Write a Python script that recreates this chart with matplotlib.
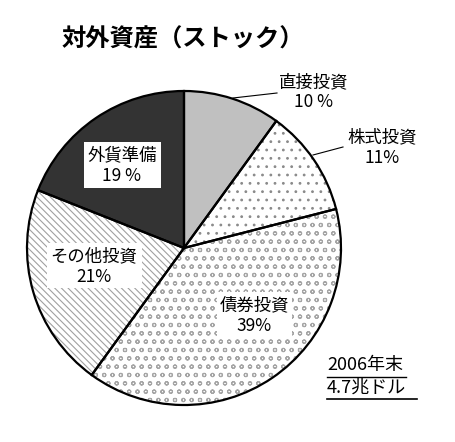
import matplotlib
matplotlib.use("Agg")
import matplotlib.pyplot as plt

plt.rcParams['font.family'] = ['Noto Sans CJK JP', 'DejaVu Sans']
plt.rcParams['hatch.linewidth'] = 0.8

# データ（2006年末 対外資産）
labels = ['直接投資', '株式投資', '債券投資', 'その他投資', '外貨準備']
shares = [10, 11, 39, 21, 19]
pct_text = ['10 %', '11%', '39%', '21%', '19 %']

fills = ['#c0c0c0', 'white', 'white', 'white', '#333333']
hatches = [None, '..', 'oo', '\\\\\\\\\\', None]
hatch_cols = ['#c0c0c0', '#8a8a8a', '#a5a5a5', '#a0a0a0', '#333333']

W, H = 455, 442
fig = plt.figure(figsize=(W / 100, H / 100), dpi=100)
ax = fig.add_axes([0, 0, 1, 1])

cx, cy, r = 184, H - 248, 157

# 塗り＋ハッチ（ハッチ色はedgecolorから）
wedges, _ = ax.pie(shares, startangle=90, counterclock=False,
                   center=(cx, cy), radius=r, frame=True,
                   colors=fills,
                   wedgeprops=dict(linewidth=0))
for w, h, hc in zip(wedges, hatches, hatch_cols):
    w.set_edgecolor(hc)
    if h:
        w.set_hatch(h)

# 輪郭線
ax.pie(shares, startangle=90, counterclock=False, center=(cx, cy),
       radius=r, frame=True,
       wedgeprops=dict(fill=False, edgecolor='black', linewidth=1.6))
ax.set_xlim(0, W)
ax.set_ylim(0, H)
ax.set_aspect('equal')
ax.axis('off')

def py(y):
    return H - y

fs = 12.5

# タイトル
ax.text(62, py(40), '対外資産（ストック）', fontsize=17.5, fontweight='bold',
        ha='left', va='center')

# 外側ラベル
ax.plot([233, 277], [py(98), py(93)], color='black', lw=0.8)
ax.text(314, py(82), labels[0], fontsize=fs, ha='center', va='center')
ax.text(314, py(102), pct_text[0], fontsize=fs, ha='center', va='center')

ax.plot([313, 343], [py(155), py(147)], color='black', lw=0.8)
ax.text(382, py(137), labels[1], fontsize=fs, ha='center', va='center')
ax.text(382, py(158), pct_text[1], fontsize=fs, ha='center', va='center')

# 白抜きボックスのラベル
boxes = [(2, 217, 292, 75, 45, 254), (3, 47, 243, 95, 45, 94), (4, 84, 142, 77, 46, 122)]
for i, bx, by, bw, bh, tx in boxes:
    ax.add_patch(plt.Rectangle((bx, py(by + bh)), bw, bh, facecolor='white',
                               edgecolor='none', zorder=3))
    ax.text(tx, py(by + 13), labels[i], fontsize=fs, ha='center', va='center', zorder=4)
    ax.text(tx, py(by + 34), pct_text[i], fontsize=fs, ha='center', va='center', zorder=4)

# 注記
ax.text(327, py(365), '2006年末', fontsize=13, ha='left', va='center')
ax.text(327, py(388), '4.7兆ドル', fontsize=13, ha='left', va='center')
ax.plot([327, 406], [py(377), py(377)], color='black', lw=1.0)
ax.plot([327, 417], [py(399), py(399)], color='black', lw=1.2)

fig.savefig('out.png', dpi=100)
